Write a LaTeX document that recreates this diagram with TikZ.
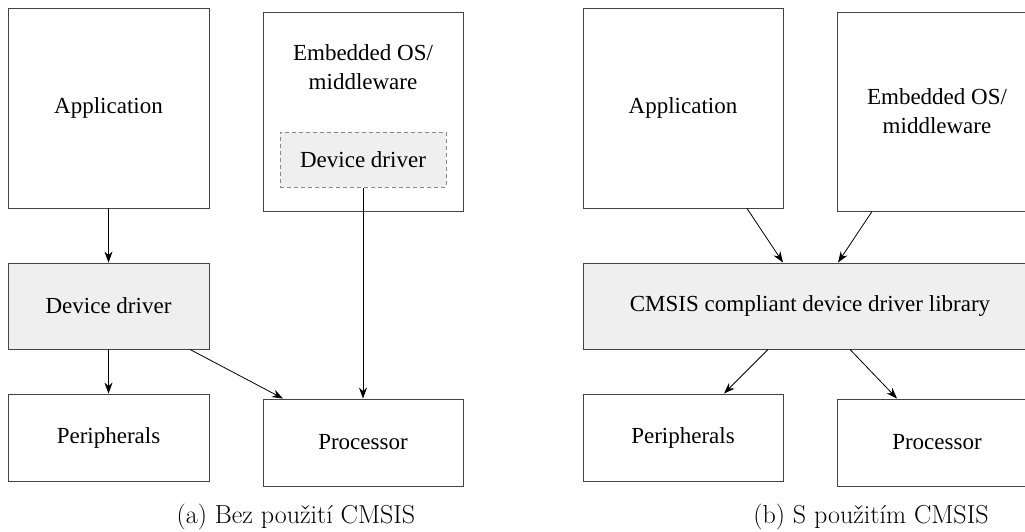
\documentclass[tikz,border=0pt]{standalone}
\usepackage{fontspec}
\setmainfont{Liberation Serif}
\newfontfamily\lmr{Latin Modern Roman}
\usetikzlibrary{arrows.meta}
\definecolor{boxline}{HTML}{444444}
\definecolor{boxfill}{HTML}{EFEFEF}
\definecolor{dashline}{HTML}{888888}
\tikzset{
  box/.style={draw=boxline, line width=0.9pt, inner sep=0pt, align=center,
    font=\fontsize{23}{29}\selectfont},
  shaded/.style={box, fill=boxfill},
  dbox/.style={draw=dashline, dash pattern=on 4pt off 3pt, line width=1pt, fill=boxfill, inner sep=0pt,
    font=\fontsize{23}{29}\selectfont},
  lbl/.style={inner sep=0pt, align=center, font=\fontsize{23}{29}\selectfont},
  captxt/.style={inner sep=0pt, font=\lmr\fontsize{26}{30}\selectfont},
  arr/.style={-{Stealth[length=11pt,width=8pt]}, line width=0.8pt, black}
}
\begin{document}
\begin{tikzpicture}[x=1pt,y=-1pt]
\clip (0,0) rectangle (1025,531);
\fill[white] (0,0) rectangle (1025,531);
% left panel
\node[box, minimum width=201pt, minimum height=200pt] (app1) at (108.5,108) {Application};
\node[box, minimum width=200pt, minimum height=199pt] (emb1) at (363,111.5) {};
\node[lbl] (emb1t) at (363,67.5) {Embedded OS/\\middleware};
\node[dbox, minimum width=166pt, minimum height=55pt] (ddin) at (363,159.5) {Device driver};
\node[shaded, minimum width=201pt, minimum height=86pt] (dd1) at (108.5,306) {Device driver};
\node[box, minimum width=201pt, minimum height=87pt] (per1) at (108.5,437.5) {Peripherals};
\node[box, minimum width=200pt, minimum height=87pt] (proc1) at (363,442.5) {Processor};
\node[captxt] (capa) at (296,517) {(a) Bez použití CMSIS};
\draw[arr] (app1.south) -- (dd1.north);
\draw[arr] (dd1.south) -- (per1.north);
\draw[arr] ([xshift=81.5pt]dd1.south) -- ([xshift=-80pt]proc1.north);
\draw[arr] (ddin.south) -- (proc1.north);
% right panel
\node[box, minimum width=200pt, minimum height=200pt] (app2) at (683,108) {Application};
\node[box, minimum width=200pt, minimum height=199pt] (emb2) at (937,111.5) {Embedded OS/\\middleware};
\node[shaded, minimum width=454pt, minimum height=86pt] (cmsis) at (810,306) {CMSIS compliant device driver library};
\node[box, minimum width=200pt, minimum height=87pt] (per2) at (683,437.5) {Peripherals};
\node[box, minimum width=200pt, minimum height=87pt] (proc2) at (937,442.5) {Processor};
\node[captxt] (capb) at (871,517) {(b) S použitím CMSIS};
\draw[arr] ([xshift=64pt]app2.south) -- ([xshift=-27pt]cmsis.north);
\draw[arr] ([xshift=-65pt]emb2.south) -- ([xshift=28pt]cmsis.north);
\draw[arr] ([xshift=-42pt]cmsis.south) -- ([xshift=41pt]per2.north);
\draw[arr] ([xshift=40pt]cmsis.south) -- ([xshift=-40pt]proc2.north);
\end{tikzpicture}
\end{document}
